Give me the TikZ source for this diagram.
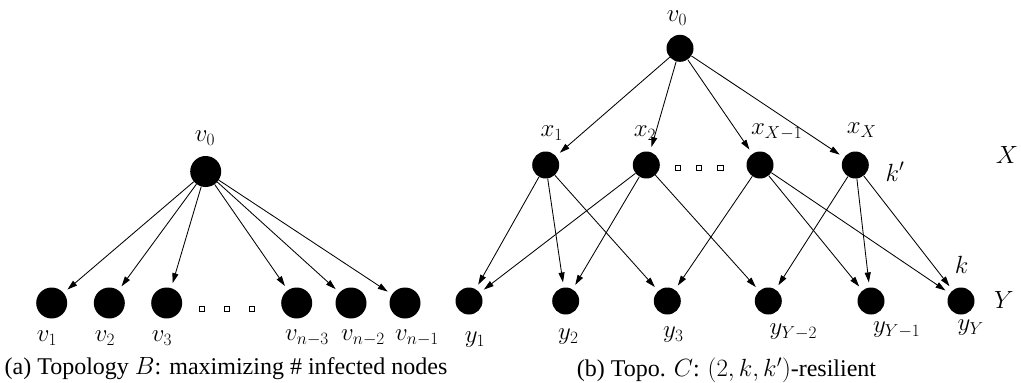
\documentclass[tikz,border=0pt]{standalone}
\usepackage[no-math]{fontspec}
\setmainfont{Liberation Serif}
\usetikzlibrary{arrows.meta}
\begin{document}
\begin{tikzpicture}[x=1pt,y=-1pt,
  bigdot/.style={circle,fill=black,inner sep=0pt,minimum size=31pt},
  smalldot/.style={circle,fill=black,inner sep=0pt,minimum size=27pt},
  lbl/.style={inner sep=0pt,font=\fontsize{23}{27}\selectfont},
  captxt/.style={inner sep=0pt,font=\fontsize{24}{28}\selectfont},
  ell/.style={draw,line width=0.9pt,inner sep=0pt,minimum size=5.5pt},
  arr/.style={-{Triangle[length=10pt,width=6pt]},line width=0.85pt,shorten >=5pt}]
\useasboundingbox (0,0) rectangle (1021,383);
% ---------- (a) ----------
\node[bigdot] (a0) at (205.7,171.5) {};
\node[bigdot] (a1) at (51.7,303) {};
\node[bigdot] (a2) at (109.3,303) {};
\node[bigdot] (a3) at (166.7,303) {};
\node[bigdot] (a4) at (296.7,303) {};
\node[bigdot] (a5) at (351,303) {};
\node[bigdot] (a6) at (405,303) {};
\node[ell] (ad1) at (201.7,309) {};
\node[ell] (ad2) at (226.7,309) {};
\node[ell] (ad3) at (251.7,309) {};
\foreach \i in {1,...,6} \draw[arr] (a0) -- (a\i);
\node[lbl] (la0) at (205,138) {$v_0$};
\node[lbl] (la1) at (47,338) {$v_1$};
\node[lbl] (la2) at (105,338) {$v_2$};
\node[lbl] (la3) at (162,338) {$v_3$};
\node[lbl] (la4) at (307,338) {$v_{n-3}$};
\node[lbl] (la5) at (363,338) {$v_{n-2}$};
\node[lbl] (la6) at (417,338) {$v_{n-1}$};
\node[captxt] (capa) at (226,369) {(a) Topology $B$: maximizing \# infected nodes};
% ---------- (b) ----------
\node[smalldot] (b0) at (680,48.3) {};
\node[smalldot] (x1) at (545.7,165) {};
\node[smalldot] (x2) at (646.3,165) {};
\node[smalldot] (x3) at (760,165) {};
\node[smalldot] (x4) at (855.3,165) {};
\node[ell] (bd1) at (677.7,167.7) {};
\node[ell] (bd2) at (699,167.7) {};
\node[ell] (bd3) at (720.3,167.7) {};
\node[smalldot] (y1) at (469,301) {};
\node[smalldot] (y2) at (565.7,301) {};
\node[smalldot] (y3) at (667.3,301) {};
\node[smalldot] (y4) at (768.3,301) {};
\node[smalldot] (y5) at (871,301) {};
\node[smalldot] (y6) at (961,301) {};
\foreach \i in {1,...,4} \draw[arr] (b0) -- (x\i);
\foreach \s/\t in {x1/y1,x1/y2,x1/y3,x2/y1,x2/y2,x2/y4,x3/y3,x3/y5,x3/y6,x4/y4,x4/y5,x4/y6}
  \draw[arr] (\s) -- (\t);
\node[lbl] (lb0) at (677,18) {$v_0$};
\node[lbl] (lx1) at (551.7,133) {$x_1$};
\node[lbl] (lx2) at (645,133) {$x_2$};
\node[lbl] (lx3) at (776.7,132) {$x_{X-1}$};
\node[lbl] (lx4) at (861.7,130) {$x_X$};
\node[lbl] (lkp) at (895,171.7) {$k'$};
\node[lbl] (lX) at (1007,155) {$X$};
\node[lbl] (ly1) at (475,340) {$y_1$};
\node[lbl] (ly2) at (568.3,336.7) {$y_2$};
\node[lbl] (ly3) at (673.3,335) {$y_3$};
\node[lbl] (ly4) at (793.3,331.7) {$y_{Y-2}$};
\node[lbl] (ly5) at (896.7,330) {$y_{Y-1}$};
\node[lbl] (ly6) at (970.7,327.7) {$y_Y$};
\node[lbl] (lk) at (961.7,265) {$k$};
\node[lbl] (lY) at (1004,300) {$Y$};
\node[captxt] (capb) at (726.5,370) {(b) Topo. $C$: $(2,k,k')$-resilient};
\end{tikzpicture}
\end{document}
